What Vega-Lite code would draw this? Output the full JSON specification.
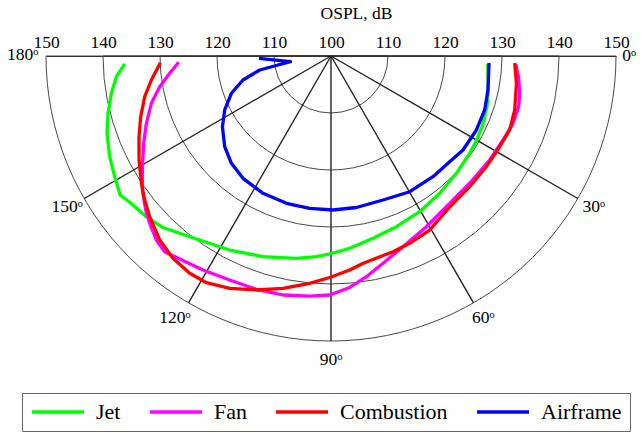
{
  "$schema": "https://vega.github.io/schema/vega-lite/v6.json",
  "width": 570,
  "height": 285,
  "autosize": {"type": "none"},
  "padding": {"left": 46, "top": 56, "right": 26, "bottom": 92},
  "background": "white",
  "config": {
    "view": {"stroke": null},
    "font": "Liberation Serif, DejaVu Serif, serif",
    "text": {"font": "Liberation Serif, DejaVu Serif, serif"},
    "legend": {"labelFont": "Liberation Serif, DejaVu Serif, serif"},
    "axis": {"labelFont": "Liberation Serif, DejaVu Serif, serif", "titleFont": "Liberation Serif, DejaVu Serif, serif"}
  },
  "datasets": {
    "rings": [{"r": 10}, {"r": 20}, {"r": 30}, {"r": 40}, {"r": 50}],
    "spokes": [
      {"x": 0, "y": 0, "x2": 43.301, "y2": -25},
      {"x": 0, "y": 0, "x2": 25, "y2": -43.301},
      {"x": 0, "y": 0, "x2": 0, "y2": -50},
      {"x": 0, "y": 0, "x2": -25, "y2": -43.301},
      {"x": 0, "y": 0, "x2": -43.301, "y2": -25}
    ],
    "angles": [
      {"label": "180ᵒ", "x": -54.1, "y": 0.2},
      {"label": "150ᵒ", "x": -46.3, "y": -26.5},
      {"label": "120ᵒ", "x": -27.4, "y": -46.0},
      {"label": "90ᵒ", "x": 0, "y": -53.3},
      {"label": "60ᵒ", "x": 26.7, "y": -46.0},
      {"label": "30ᵒ", "x": 46.1, "y": -26.5},
      {"label": "0ᵒ", "x": 52.3, "y": 0.0}
    ],
    "curves": [
      {"source": "Jet", "x": -36.19, "y": -1.40},
      {"source": "Jet", "x": -37.65, "y": -3.63},
      {"source": "Jet", "x": -38.53, "y": -6.54},
      {"source": "Jet", "x": -39.12, "y": -10.05},
      {"source": "Jet", "x": -39.30, "y": -13.56},
      {"source": "Jet", "x": -38.82, "y": -17.67},
      {"source": "Jet", "x": -37.95, "y": -21.18},
      {"source": "Jet", "x": -36.98, "y": -24.39},
      {"source": "Jet", "x": -35.14, "y": -25.79},
      {"source": "Jet", "x": -32.39, "y": -28.19},
      {"source": "Jet", "x": -29.47, "y": -30.09},
      {"source": "Jet", "x": -24.79, "y": -31.70},
      {"source": "Jet", "x": -17.77, "y": -34.04},
      {"source": "Jet", "x": -11.93, "y": -35.21},
      {"source": "Jet", "x": -6.07, "y": -35.49},
      {"source": "Jet", "x": -2.56, "y": -35.21},
      {"source": "Jet", "x": 0.07, "y": -34.65},
      {"source": "Jet", "x": 3.28, "y": -33.74},
      {"source": "Jet", "x": 7.37, "y": -31.98},
      {"source": "Jet", "x": 11.47, "y": -29.95},
      {"source": "Jet", "x": 15.56, "y": -27.32},
      {"source": "Jet", "x": 19.07, "y": -24.09},
      {"source": "Jet", "x": 22.0, "y": -20.58},
      {"source": "Jet", "x": 24.33, "y": -17.07},
      {"source": "Jet", "x": 25.39, "y": -15.09},
      {"source": "Jet", "x": 26.61, "y": -12.11},
      {"source": "Jet", "x": 27.40, "y": -8.60},
      {"source": "Jet", "x": 27.58, "y": -5.09},
      {"source": "Jet", "x": 27.49, "y": -1.40},
      {"source": "Fan", "x": -26.72, "y": -1.11},
      {"source": "Fan", "x": -28.30, "y": -3.04},
      {"source": "Fan", "x": -30.05, "y": -5.39},
      {"source": "Fan", "x": -31.51, "y": -8.30},
      {"source": "Fan", "x": -32.39, "y": -11.81},
      {"source": "Fan", "x": -32.86, "y": -15.32},
      {"source": "Fan", "x": -33.09, "y": -19.42},
      {"source": "Fan", "x": -33.09, "y": -23.51},
      {"source": "Fan", "x": -32.51, "y": -27.02},
      {"source": "Fan", "x": -31.81, "y": -29.35},
      {"source": "Fan", "x": -30.63, "y": -32.28},
      {"source": "Fan", "x": -29.18, "y": -34.33},
      {"source": "Fan", "x": -26.54, "y": -35.61},
      {"source": "Fan", "x": -22.46, "y": -37.54},
      {"source": "Fan", "x": -17.77, "y": -39.30},
      {"source": "Fan", "x": -13.09, "y": -40.93},
      {"source": "Fan", "x": -8.42, "y": -41.93},
      {"source": "Fan", "x": -3.74, "y": -42.11},
      {"source": "Fan", "x": -0.23, "y": -41.93},
      {"source": "Fan", "x": 3.28, "y": -40.61},
      {"source": "Fan", "x": 6.21, "y": -38.72},
      {"source": "Fan", "x": 9.12, "y": -36.37},
      {"source": "Fan", "x": 12.63, "y": -33.46},
      {"source": "Fan", "x": 16.74, "y": -29.95},
      {"source": "Fan", "x": 20.25, "y": -26.44},
      {"source": "Fan", "x": 24.33, "y": -22.33},
      {"source": "Fan", "x": 27.84, "y": -18.25},
      {"source": "Fan", "x": 30.18, "y": -14.74},
      {"source": "Fan", "x": 31.93, "y": -11.81},
      {"source": "Fan", "x": 32.93, "y": -8.89},
      {"source": "Fan", "x": 33.11, "y": -6.54},
      {"source": "Fan", "x": 32.93, "y": -3.86},
      {"source": "Fan", "x": 32.40, "y": -1.40},
      {"source": "Combustion", "x": -29.93, "y": -1.18},
      {"source": "Combustion", "x": -31.51, "y": -4.21},
      {"source": "Combustion", "x": -32.68, "y": -7.14},
      {"source": "Combustion", "x": -33.39, "y": -10.65},
      {"source": "Combustion", "x": -33.68, "y": -14.16},
      {"source": "Combustion", "x": -33.68, "y": -18.25},
      {"source": "Combustion", "x": -33.26, "y": -22.33},
      {"source": "Combustion", "x": -32.68, "y": -25.26},
      {"source": "Combustion", "x": -31.81, "y": -28.19},
      {"source": "Combustion", "x": -30.05, "y": -32.28},
      {"source": "Combustion", "x": -27.72, "y": -35.49},
      {"source": "Combustion", "x": -24.79, "y": -38.12},
      {"source": "Combustion", "x": -21.86, "y": -39.77},
      {"source": "Combustion", "x": -17.77, "y": -40.75},
      {"source": "Combustion", "x": -13.09, "y": -41.05},
      {"source": "Combustion", "x": -8.42, "y": -40.75},
      {"source": "Combustion", "x": -3.74, "y": -39.88},
      {"source": "Combustion", "x": -0.23, "y": -38.86},
      {"source": "Combustion", "x": 3.28, "y": -37.54},
      {"source": "Combustion", "x": 5.39, "y": -36.49},
      {"source": "Combustion", "x": 6.44, "y": -36.05},
      {"source": "Combustion", "x": 10.88, "y": -34.33},
      {"source": "Combustion", "x": 13.81, "y": -32.86},
      {"source": "Combustion", "x": 17.32, "y": -30.53},
      {"source": "Combustion", "x": 20.82, "y": -26.49},
      {"source": "Combustion", "x": 24.33, "y": -22.93},
      {"source": "Combustion", "x": 27.26, "y": -19.42},
      {"source": "Combustion", "x": 29.25, "y": -16.49},
      {"source": "Combustion", "x": 31.35, "y": -12.98},
      {"source": "Combustion", "x": 32.23, "y": -9.47},
      {"source": "Combustion", "x": 32.53, "y": -4.79},
      {"source": "Combustion", "x": 32.23, "y": -1.23},
      {"source": "Airframe", "x": -12.63, "y": -0.40},
      {"source": "Airframe", "x": -7.12, "y": -1.00},
      {"source": "Airframe", "x": -9.30, "y": -1.58},
      {"source": "Airframe", "x": -12.51, "y": -2.46},
      {"source": "Airframe", "x": -15.44, "y": -4.21},
      {"source": "Airframe", "x": -17.47, "y": -6.54},
      {"source": "Airframe", "x": -18.65, "y": -9.47},
      {"source": "Airframe", "x": -19.05, "y": -12.40},
      {"source": "Airframe", "x": -18.65, "y": -15.91},
      {"source": "Airframe", "x": -17.47, "y": -18.82},
      {"source": "Airframe", "x": -15.44, "y": -21.46},
      {"source": "Airframe", "x": -11.93, "y": -24.09},
      {"source": "Airframe", "x": -7.82, "y": -25.84},
      {"source": "Airframe", "x": -3.74, "y": -26.72},
      {"source": "Airframe", "x": 0.35, "y": -27.02},
      {"source": "Airframe", "x": 4.46, "y": -26.58},
      {"source": "Airframe", "x": 9.12, "y": -25.26},
      {"source": "Airframe", "x": 13.81, "y": -23.81},
      {"source": "Airframe", "x": 17.89, "y": -21.18},
      {"source": "Airframe", "x": 20.82, "y": -18.54},
      {"source": "Airframe", "x": 23.16, "y": -16.49},
      {"source": "Airframe", "x": 25.51, "y": -12.98},
      {"source": "Airframe", "x": 26.96, "y": -9.47},
      {"source": "Airframe", "x": 27.54, "y": -5.96},
      {"source": "Airframe", "x": 27.72, "y": -1.23}
    ]
  },
  "layer": [
    {
      "data": {"name": "rings"},
      "mark": {"type": "arc", "theta": 1.5707963, "theta2": 4.7123890, "filled": false, "stroke": "#333", "strokeWidth": 0.9},
      "encoding": {
        "x": {"datum": 0, "type": "quantitative", "scale": {"domain": [-50, 50], "nice": false, "zero": false},
          "axis": {
            "orient": "top", "values": [-50, -40, -30, -20, -10, 0, 10, 20, 30, 40, 50],
            "labelExpr": "'' + (abs(datum.value) + 100)",
            "grid": false, "ticks": false, "tickSize": 0, "domain": true, "domainColor": "#333", "domainWidth": 1.1,
            "labelFontSize": 17.5, "labelColor": "black",
            "labelBaseline": "middle", "labelPadding": 14, "labelFlush": false, "labelOverlap": false, "labelBound": false,
            "title": "OSPL, dB", "titleFontSize": 17.5, "titleFontWeight": "normal", "titleColor": "black",
            "titleX": 310, "titleY": -43, "titleBaseline": "middle", "titleAlign": "center", "titleAngle": 0
          }
        },
        "y": {"datum": 0, "type": "quantitative", "scale": {"domain": [-50, 0], "nice": false, "zero": false}, "axis": null},
        "radius": {"field": "r", "type": "quantitative", "stack": null, "scale": {"type": "linear", "domain": [0, 50], "range": [0, 285], "zero": true}}
      }
    },
    {
      "data": {"name": "spokes"},
      "mark": {"type": "rule", "color": "#222", "strokeWidth": 1.4},
      "encoding": {
        "x": {"field": "x", "type": "quantitative"},
        "y": {"field": "y", "type": "quantitative"},
        "x2": {"field": "x2"},
        "y2": {"field": "y2"}
      }
    },
    {
      "data": {"name": "curves"},
      "mark": {"type": "line", "strokeWidth": 3.3, "strokeJoin": "round", "strokeCap": "butt"},
      "encoding": {
        "x": {"field": "x", "type": "quantitative"},
        "y": {"field": "y", "type": "quantitative"},
        "order": {"value": null},
        "color": {
          "field": "source", "type": "nominal",
          "scale": {"domain": ["Jet", "Fan", "Combustion", "Airframe"], "range": ["#00ff00", "#ff00ff", "#ff0000", "#0000ff"]},
          "legend": {
            "title": null, "orient": "none", "legendX": -24, "legendY": 337,
            "direction": "horizontal", "columns": 4, "columnPadding": 27,
            "symbolType": "stroke", "symbolSize": 2704, "symbolStrokeWidth": 3.3, "clipHeight": 22,
            "labelFontSize": 22, "labelColor": "black", "labelOffset": 10, "labelLimit": 300,
            "strokeColor": "#666", "padding": 8, "fillColor": "white"
          }
        }
      }
    },
    {
      "data": {"name": "angles"},
      "mark": {"type": "text", "fontSize": 17.5, "color": "black", "align": "center", "baseline": "middle"},
      "encoding": {
        "x": {"field": "x", "type": "quantitative"},
        "y": {"field": "y", "type": "quantitative"},
        "text": {"field": "label"}
      }
    }
  ]
}
